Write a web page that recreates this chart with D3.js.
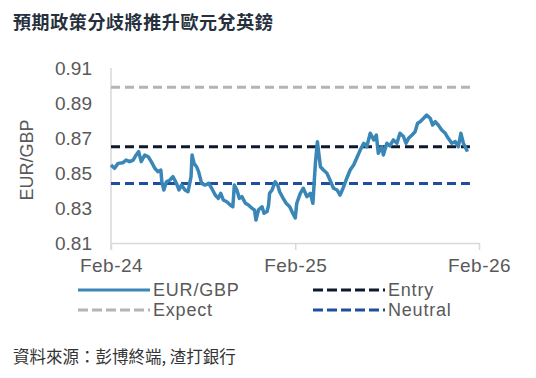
<!DOCTYPE html>
<html>
<head>
<meta charset="utf-8">
<script src="https://cdn.jsdelivr.net/npm/d3@7"></script>
<style>
  body { margin: 0; background: #fff; }
  svg { display: block; }
</style>
</head>
<body>
<div id="wrapper"></div>
<script>
// EUR/GBP
const fxDates = [
  '2024-02-01','2024-02-08','2024-02-15','2024-02-25','2024-03-02','2024-03-09','2024-03-16','2024-03-22',
  '2024-03-27','2024-04-01','2024-04-08','2024-04-15','2024-04-21','2024-04-28','2024-05-04','2024-05-10',
  '2024-05-12','2024-05-16','2024-05-21','2024-05-28','2024-06-03','2024-06-10','2024-06-15','2024-06-20',
  '2024-06-27','2024-07-03','2024-07-09','2024-07-11','2024-07-15','2024-07-20','2024-07-24','2024-07-30',
  '2024-08-06','2024-08-13','2024-08-19','2024-08-26','2024-09-01','2024-09-06','2024-09-11','2024-09-18',
  '2024-09-25','2024-09-30','2024-10-03','2024-10-08','2024-10-13','2024-10-18','2024-10-25','2024-10-31',
  '2024-11-07','2024-11-12','2024-11-15','2024-11-20','2024-11-27','2024-12-01','2024-12-07','2024-12-10',
  '2024-12-12','2024-12-17','2024-12-23','2024-12-28','2025-01-01','2025-01-08','2025-01-14','2025-01-21',
  '2025-01-27','2025-02-01','2025-02-04','2025-02-11','2025-02-17','2025-02-24','2025-03-03','2025-03-08',
  '2025-03-13','2025-03-17','2025-03-23','2025-03-29','2025-04-05','2025-04-11','2025-04-18','2025-04-25',
  '2025-05-01','2025-05-07','2025-05-13','2025-05-21','2025-05-28','2025-06-03','2025-06-10','2025-06-17',
  '2025-06-23','2025-06-30','2025-07-07','2025-07-12','2025-07-16','2025-07-23','2025-07-26','2025-08-02',
  '2025-08-08','2025-08-15','2025-08-22','2025-08-28','2025-09-04','2025-09-09','2025-09-14','2025-09-21',
  '2025-09-27','2025-10-02','2025-10-07','2025-10-14','2025-10-20','2025-10-27','2025-11-01','2025-11-06',
  '2025-11-12','2025-11-19','2025-11-26','2025-12-02','2025-12-09','2025-12-16','2025-12-22','2025-12-27',
  '2026-01-01','2026-01-06','2026-01-09'
]
const fxValues = [
  0.8546,0.8527,0.8555,0.8559,0.8574,0.8565,0.8574,0.8603,
  0.8622,0.8565,0.8603,0.8593,0.8565,0.8527,0.8508,0.8517,
  0.8450,0.8403,0.8450,0.8460,0.8479,0.8441,0.8403,0.8431,
  0.8403,0.8393,0.8479,0.8603,0.8555,0.8536,0.8508,0.8441,
  0.8431,0.8441,0.8413,0.8374,0.8355,0.8384,0.8346,0.8336,
  0.8317,0.8307,0.8431,0.8403,0.8355,0.8365,0.8327,0.8317,
  0.8298,0.8289,0.8231,0.8289,0.8307,0.8270,0.8280,0.8317,
  0.8384,0.8403,0.8450,0.8431,0.8393,0.8355,0.8327,0.8307,
  0.8270,0.8243,0.8327,0.8384,0.8413,0.8365,0.8384,0.8327,
  0.8555,0.8679,0.8536,0.8517,0.8498,0.8460,0.8413,0.8403,
  0.8374,0.8413,0.8460,0.8517,0.8546,0.8584,0.8631,0.8670,
  0.8650,0.8727,0.8689,0.8717,0.8613,0.8650,0.8603,0.8670,
  0.8655,0.8689,0.8670,0.8727,0.8708,0.8670,0.8698,0.8717,
  0.8736,0.8784,0.8793,0.8813,0.8831,0.8813,0.8774,0.8793,
  0.8774,0.8746,0.8727,0.8698,0.8670,0.8679,0.8650,0.8727,
  0.8670,0.8641,0.8622
]

// flat levels
const levelNames = ['Expect', 'Entry', 'Neutral']
const levelValues = [0.899, 0.865, 0.844]
const levelColors = ['#b4b4b4', '#0e1a2b', '#1f4e9e']
const levelStart = '2024-02-01'
const levelEnd = '2026-01-14'

const yTicks = [0.81, 0.83, 0.85, 0.87, 0.89, 0.91]
const xTickDates = ['2024-02-01', '2025-02-01', '2026-02-01']
const xTickLabels = ['Feb-24', 'Feb-25', 'Feb-26']

const title = '預期政策分歧將推升歐元兌英鎊'
const source = '資料來源：彭博終端, 渣打銀行'

const parseDate = d3.timeParse('%Y-%m-%d')
const dataset = fxDates.map((d, i) => ({ date: parseDate(d), value: fxValues[i] }))

const xAccessor = d => d.date
const yAccessor = d => d.value

const width = 536
const height = 378
const latin = "'Liberation Sans', Arial, sans-serif"
const cjk = "'Noto Sans CJK TC', 'Noto Sans', sans-serif"

const wrapper = d3.select('#wrapper').append('svg')
  .attr('width', width)
  .attr('height', height)

// Scales
const xScale = d3.scaleTime()
  .domain([parseDate(xTickDates[0]), parseDate(xTickDates[2])])
  .range([111, 479])

const yScale = d3.scaleLinear()
  .domain([0.81, 0.91])
  .range([243, 68])

// title + source
wrapper.append('text')
  .attr('x', 13)
  .attr('y', 29)
  .attr('font-family', cjk)
  .attr('font-weight', 'bold')
  .attr('font-size', 18)
  .attr('fill', '#26303d')
  .style('letter-spacing', '0.6px')
  .text(title)

wrapper.append('text')
  .attr('x', 13)
  .attr('y', 363)
  .attr('font-family', cjk)
  .attr('font-size', 16.5)
  .attr('fill', '#333')
  .text(source)

// Axes
const yAxisGenerator = d3.axisLeft(yScale)
  .tickValues(yTicks)
  .tickFormat(d3.format('.2f'))
  .tickSize(0)
  .tickPadding(19)

const yAxis = wrapper.append('g')
  .attr('transform', 'translate(111,0)')
  .call(yAxisGenerator)
yAxis.select('.domain').attr('stroke', '#d9d9d9').attr('stroke-width', 1.5)
  .attr('d', `M0,${yScale(0.91)}V250`)
yAxis.selectAll('text')
  .attr('font-family', latin)
  .attr('font-size', 19)
  .attr('fill', '#595959')

const xAxisGenerator = d3.axisBottom(xScale)
  .tickValues(xTickDates.map(parseDate))
  .tickFormat((d, i) => xTickLabels[i])
  .tickSize(7)
  .tickSizeOuter(0)
  .tickPadding(9)

const xAxis = wrapper.append('g')
  .attr('transform', 'translate(0,243)')
  .call(xAxisGenerator)
xAxis.select('.domain').attr('stroke', '#d9d9d9').attr('stroke-width', 1.5)
xAxis.selectAll('line').attr('stroke', '#d9d9d9').attr('stroke-width', 1.5)
xAxis.selectAll('text')
  .attr('font-family', latin)
  .attr('font-size', 19)
  .attr('fill', '#595959')
  .style('letter-spacing', '0.5px')

wrapper.append('text')
  .attr('transform', 'translate(33,160) rotate(-90)')
  .attr('text-anchor', 'middle')
  .attr('font-family', latin)
  .attr('font-size', 18)
  .attr('fill', '#595959')
  .text('EUR/GBP')

// level lines
levelValues.forEach((v, i) => {
  wrapper.append('line')
    .attr('x1', xScale(parseDate(levelStart)))
    .attr('x2', xScale(parseDate(levelEnd)))
    .attr('y1', yScale(v))
    .attr('y2', yScale(v))
    .attr('stroke', levelColors[i])
    .attr('stroke-width', 3)
    .attr('stroke-dasharray', '9,5')
})

// the fx line
const lineGenerator = d3.line()
  .x(d => xScale(xAccessor(d)))
  .y(d => yScale(yAccessor(d)))

wrapper.append('path')
  .datum(dataset)
  .attr('d', lineGenerator)
  .attr('fill', 'none')
  .attr('stroke', '#3a87b7')
  .attr('stroke-width', 3.5)
  .attr('stroke-linejoin', 'round')

// Legend
const legendItems = [
  { name: 'EUR/GBP', color: '#3a87b7', dash: null, x: 78, y: 290 },
  { name: levelNames[1], color: levelColors[1], dash: '10,4', x: 313, y: 290 },
  { name: levelNames[0], color: levelColors[0], dash: '10,4', x: 78, y: 310 },
  { name: levelNames[2], color: levelColors[2], dash: '10,4', x: 313, y: 310 }
]

const legend = wrapper.append('g')
legendItems.forEach(item => {
  legend.append('line')
    .attr('x1', item.x)
    .attr('x2', item.x + 72)
    .attr('y1', item.y)
    .attr('y2', item.y)
    .attr('stroke', item.color)
    .attr('stroke-width', 3)
    .attr('stroke-dasharray', item.dash)
  legend.append('text')
    .attr('x', item.x + 75)
    .attr('y', item.y + 6)
    .attr('font-family', latin)
    .attr('font-size', 18)
    .attr('fill', '#595959')
    .style('letter-spacing', '0.8px')
    .text(item.name)
})
</script>
</body>
</html>
